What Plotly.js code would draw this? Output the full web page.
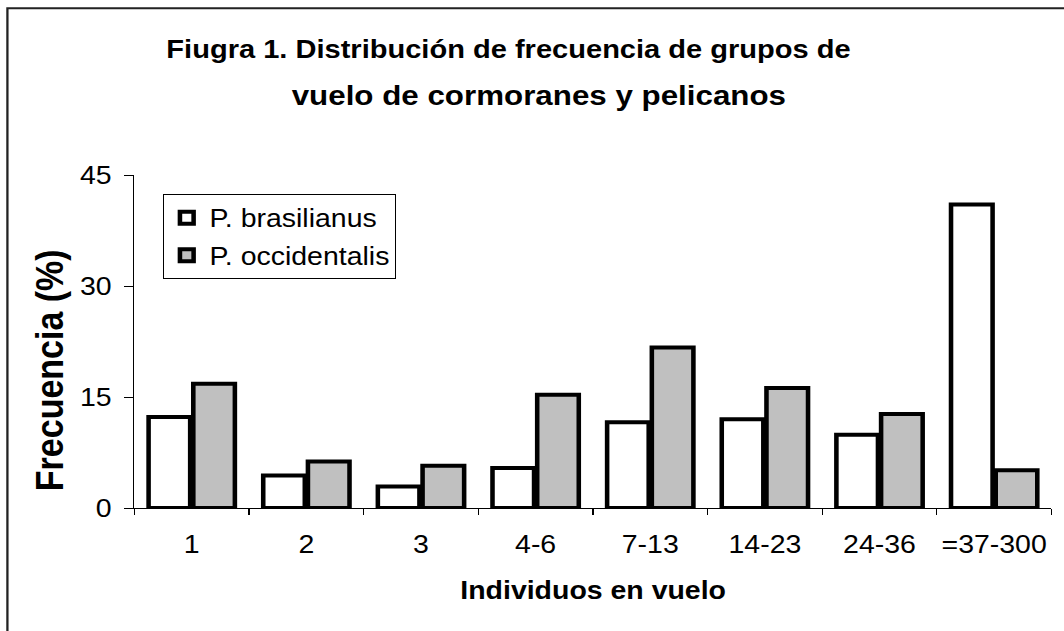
<!DOCTYPE html>
<html>
<head>
<meta charset="utf-8">
<script src="https://cdn.plot.ly/plotly-3.0.1.min.js"></script>
<style>
  html, body { margin: 0; padding: 0; background: #ffffff; overflow: hidden; }
  #chart { width: 934px; height: 631px; transform: scaleX(1.13919); transform-origin: 0 0; }
</style>
</head>
<body>
<div id="chart"></div>
<script>
const categories = ['1', '2', '3', '4-6', '7-13', '14-23', '24-36', '=37-300'];
const brasilianus = [12.3, 4.4, 2.9, 5.4, 11.6, 12.0, 9.9, 41.0];
const occidentalis = [16.8, 6.3, 5.7, 15.3, 21.7, 16.2, 12.7, 5.1];
const seriesNames = ['P. brasilianus', 'P. occidentalis'];
const yTicks = [0, 15, 30, 45];
const boundaries = [-0.5, 0.5, 1.5, 2.5, 3.5, 4.5, 5.5, 6.5, 7.5];
const titleLine1 = 'Fiugra 1. Distribución de frecuencia de grupos de';
const titleLine2 = 'vuelo de cormoranes y pelicanos';
const xTitle = 'Individuos en vuelo';
const yTitle = 'Frecuencia (%)';

const FONT = 'Liberation Sans, Arial, sans-serif';

const traces = [
  {
    type: 'bar', name: seriesNames[0], x: categories, y: brasilianus,
    legendgroup: 'a',
    marker: { color: '#ffffff', line: { color: '#000000', width: 4 } }
  },
  {
    type: 'bar', name: seriesNames[1], x: categories, y: occidentalis,
    legendgroup: 'b',
    marker: { color: '#c0c0c0', line: { color: '#000000', width: 4 } }
  }
];

const layout = {
  width: 934, height: 631,
  margin: { l: 118, r: 11, t: 175, b: 123 },
  paper_bgcolor: '#ffffff', plot_bgcolor: '#ffffff',
  font: { family: FONT, color: '#000000', size: 25 },
  barmode: 'group', bargap: 0.22, bargroupgap: 0.07,
  showlegend: true,
  legend: {
    x: 0.031, y: 0.943, xanchor: 'left', yanchor: 'top',
    bgcolor: '#ffffff', bordercolor: '#000000', borderwidth: 1,
    font: { family: FONT, size: 25, color: '#000000' },
    traceorder: 'grouped', tracegroupgap: 2
  },
  xaxis: {
    type: 'category', categoryorder: 'array', categoryarray: categories,
    range: [-0.5, 7.5], tickangle: 0, automargin: false,
    showline: true, linecolor: '#000000', linewidth: 1,
    ticks: 'outside', tickson: 'boundaries', ticklen: 6, tickcolor: '#000000', tickwidth: 1,
    ticklabelstandoff: 14,
    tickfont: { family: FONT, size: 25, color: '#000000' },
    showgrid: false, zeroline: false, fixedrange: true
  },
  xaxis2: {
    type: 'linear', overlaying: 'x', anchor: 'y', side: 'bottom',
    range: [-0.5, 7.5], tickmode: 'array', tickvals: boundaries,
    ticks: 'inside', ticklen: 8, tickcolor: '#000000', tickwidth: 1,
    showticklabels: false, showline: false, showgrid: false, zeroline: false
  },
  yaxis: {
    range: [0, 45], tickmode: 'array', tickvals: yTicks,
    showline: true, linecolor: '#000000', linewidth: 1,
    ticks: 'outside', ticklen: 8, tickcolor: '#000000', tickwidth: 1,
    ticklabelstandoff: 6,
    tickfont: { family: FONT, size: 25, color: '#000000' },
    showgrid: false, zeroline: false, fixedrange: true
  },
  annotations: [
    { text: '<b>' + titleLine1 + '</b>', xref: 'paper', yref: 'paper', x: 0.0325, y: 1.378,
      xanchor: 'left', yanchor: 'middle', showarrow: false,
      font: { family: FONT, size: 25.5, color: '#000000' } },
    { text: '<b>' + titleLine2 + '</b>', xref: 'paper', yref: 'paper', x: 0.1686, y: 1.24,
      xanchor: 'left', yanchor: 'middle', showarrow: false,
      font: { family: FONT, size: 27.5, color: '#000000' } },
    { text: '<b>' + xTitle + '</b>', xref: 'paper', yref: 'paper', x: 0.5, y: -0.246,
      xanchor: 'center', yanchor: 'middle', showarrow: false,
      font: { family: FONT, size: 25, color: '#000000' } },
    { text: '<b>' + yTitle + '</b>', xref: 'paper', yref: 'paper', x: -0.0927, y: 0.415,
      xanchor: 'center', yanchor: 'middle', showarrow: false, textangle: -90,
      font: { family: FONT, size: 34, color: '#000000' } }
  ],
  shapes: [
    { type: 'rect', xref: 'paper', yref: 'paper', x0: -0.1385, x1: 1.6, y0: -1.0, y1: 1.501,
      line: { color: '#222222', width: 2 }, fillcolor: 'rgba(0,0,0,0)', layer: 'above' }
  ]
};

Plotly.newPlot('chart', traces, layout, { displayModeBar: false, staticPlot: true });
</script>
</body>
</html>
